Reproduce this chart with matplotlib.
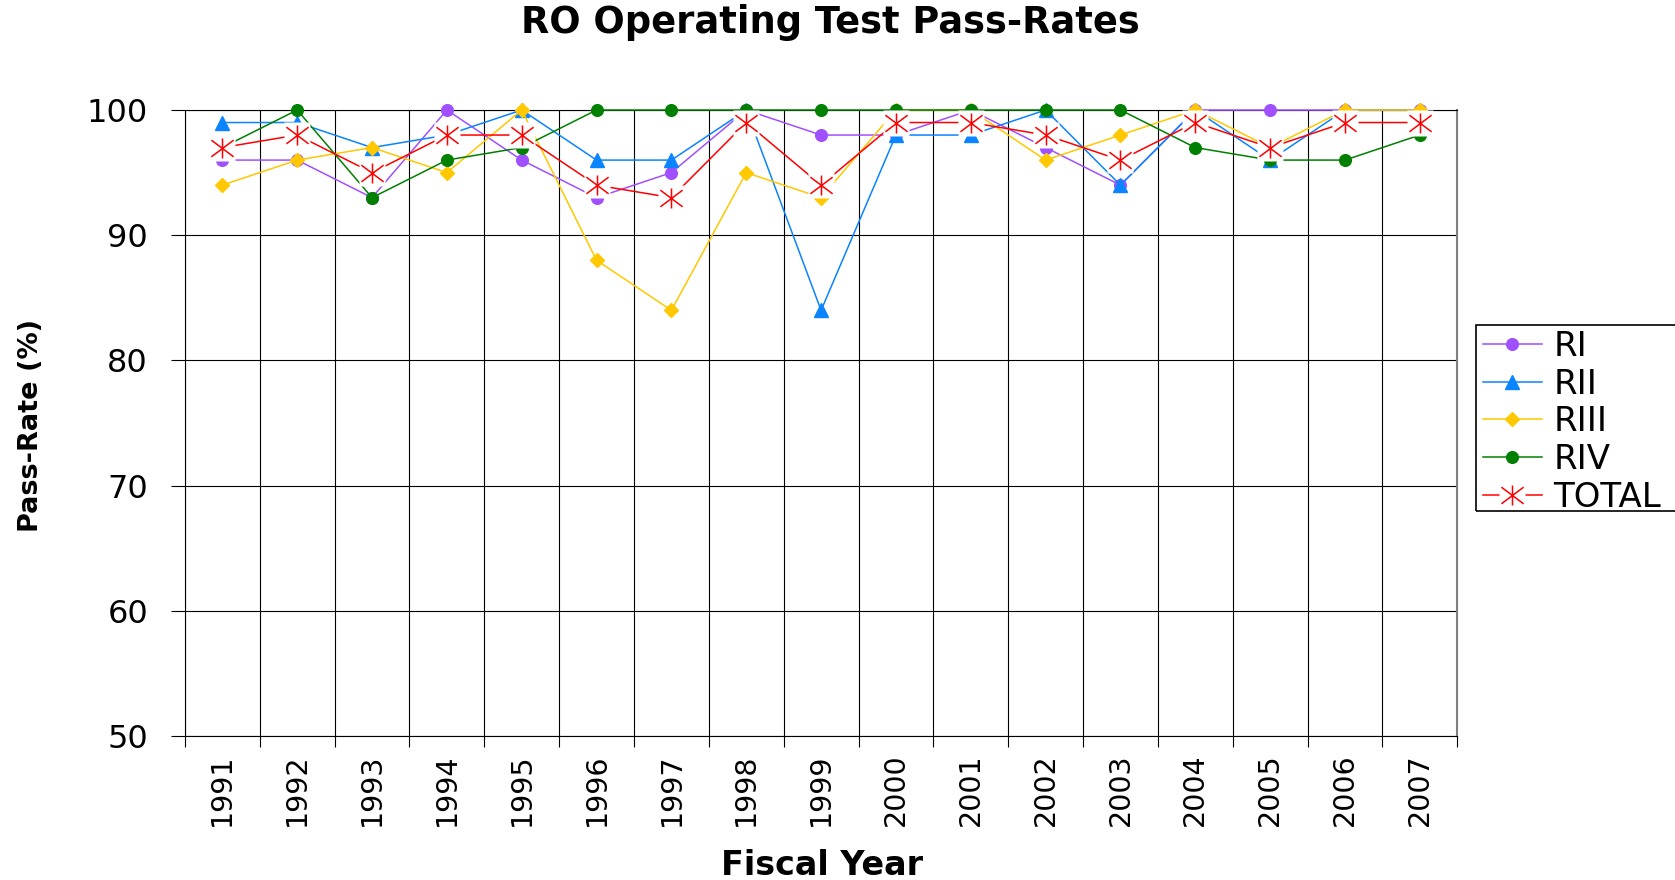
import matplotlib
matplotlib.use('Agg')
import matplotlib.pyplot as plt
from matplotlib.path import Path
from matplotlib.patches import Rectangle
from matplotlib.legend_handler import HandlerTuple
import numpy as np

# ---- data ----
years = ['1991', '1992', '1993', '1994', '1995', '1996', '1997', '1998', '1999',
         '2000', '2001', '2002', '2003', '2004', '2005', '2006', '2007']
RI = [96, 96, 93, 100, 96, 93, 95, 100, 98, 98, 100, 97, 94, 100, 100, 100, 100]
RII = [99, 99, 97, 98, 100, 96, 96, 100, 84, 98, 98, 100, 94, 100, 96, 100, 100]
RIII = [94, 96, 97, 95, 100, 88, 84, 95, 93, 100, 100, 96, 98, 100, 97, 100, 100]
RIV = [97, 100, 93, 96, 97, 100, 100, 100, 100, 100, 100, 100, 100, 97, 96, 96, 98]
TOTAL = [97, 98, 95, 98, 98, 94, 93, 99, 94, 99, 99, 98, 96, 99, 97, 99, 99]
series_labels = ['RI', 'RII', 'RIII', 'RIV', 'TOTAL']
y_ticks = [50, 60, 70, 80, 90, 100]

# ---- style ----
purple = '#A050FF'
blue = '#0A84FF'
yellow = '#FFC800'
green = '#008000'
red = '#FF0000'

W, H = 1675, 880
fig = plt.figure(figsize=(W / 100, H / 100), dpi=100)
ax = fig.add_axes([0.1104, 0.1636, 0.8700 - 0.1104, 0.875 - 0.1636])

x = np.arange(len(years))
lw = 1.1

l1, = ax.plot(x, RI, color=purple, lw=lw, marker='o', ms=8.4, mfc=purple, mec=purple,
              zorder=3.0, clip_on=False)
l2, = ax.plot(x, RII, color=blue, lw=lw, marker='^', ms=9.4, mfc=blue, mec=blue,
              zorder=3.1, clip_on=False)
l3, = ax.plot(x, RIII, color=yellow, lw=lw, marker='D', ms=7.5, mfc=yellow, mec=yellow,
              zorder=3.2, clip_on=False)
l4, = ax.plot(x, RIV, color=green, lw=lw, marker='o', ms=8.4, mfc=green, mec=green,
              zorder=3.3, clip_on=False)

star = Path([(-1, -0.75), (1, 0.75), (-1, 0.75), (1, -0.75), (0, -0.9), (0, 0.9)],
            [Path.MOVETO, Path.LINETO, Path.MOVETO, Path.LINETO, Path.MOVETO, Path.LINETO])

t1, = ax.plot(x, TOTAL, color=red, lw=lw, zorder=3.4, clip_on=False)
t2, = ax.plot(x, TOTAL, ls='none', marker='s', ms=19, mfc='white', mec='none',
              zorder=3.5, clip_on=False)
t3, = ax.plot(x, TOTAL, ls='none', marker=star, ms=16, mec=red, mfc='none', mew=1.1,
              zorder=3.6, clip_on=False)

ax.set_xlim(-0.5, len(years) - 0.5)
ax.set_ylim(50, 100)

ax.set_xticks(x)
ax.set_xticklabels(years, rotation=90)
ax.set_xticks(np.arange(-0.5, len(years), 1), minor=True)
ax.tick_params(axis='x', which='major', length=0, pad=12.5, labelsize=20.5)
ax.tick_params(axis='x', which='minor', length=8, width=0.8, direction='out', color='black')
ax.set_yticks(y_ticks)
ax.tick_params(axis='y', which='major', length=10, width=0.8, direction='out', pad=16.5,
               labelsize=23)

ax.set_axisbelow(True)
ax.xaxis.grid(True, which='minor', color='black', lw=0.8)
ax.xaxis.grid(False, which='major')
ax.yaxis.grid(True, which='major', color='black', lw=0.8)

for s in ['left', 'bottom', 'top']:
    ax.spines[s].set_color('black')
    ax.spines[s].set_linewidth(0.8)
ax.spines['right'].set_color('#808080')
ax.spines['right'].set_linewidth(1.5)

leg = ax.legend([l1, l2, l3, l4, (t1, t2, t3)], series_labels,
                loc='upper left', bbox_to_anchor=(0.8812, 0.6330),
                bbox_transform=fig.transFigure, borderaxespad=0,
                frameon=False,
                prop={'size': 24.5}, handlelength=1.74, handletextpad=0.33,
                labelspacing=0.14, borderpad=0.2,
                handler_map={tuple: HandlerTuple(ndivide=1)})

# legend frame (extends beyond the right edge of the figure like the original)
frame = Rectangle((1476 / W, 1 - 511 / H), 260 / W, (511 - 325) / H,
                  transform=fig.transFigure, fill=False, edgecolor='black', lw=1.2,
                  clip_on=False)
fig.patches.append(frame)

fig.text(0.496, 1 - 33 / 880, 'RO Operating Test Pass-Rates', ha='center', va='baseline',
         fontsize=26.5, fontweight='bold')
fig.text(0.491, 0.006, 'Fiscal Year', ha='center', va='baseline',
         fontsize=24, fontweight='bold')
fig.text(0.0188, 0.517, 'Pass-Rate (%)', rotation=90, ha='center', va='center',
         fontsize=19.5, fontweight='bold')

fig.savefig('out.png', dpi=100)
